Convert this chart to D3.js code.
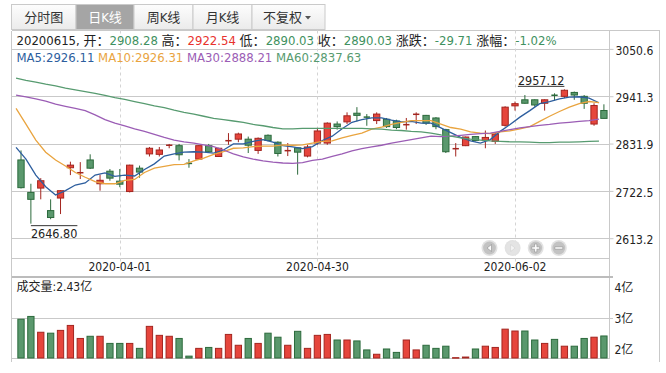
<!DOCTYPE html>
<html>
<head>
<meta charset="utf-8">
<script src="https://cdn.jsdelivr.net/npm/d3@7"></script>
<style>
  body { margin: 0; background: #fff; }
  svg text { font-family: "DejaVu Sans Condensed", "Noto Sans CJK SC", sans-serif; white-space: pre; }
</style>
</head>
<body>
<script>

const dates = [
  "2020-03-18","2020-03-19","2020-03-20","2020-03-23","2020-03-24","2020-03-25","2020-03-26","2020-03-27","2020-03-30","2020-03-31",
  "2020-04-01","2020-04-02","2020-04-03","2020-04-07","2020-04-08","2020-04-09","2020-04-10","2020-04-13","2020-04-14","2020-04-15",
  "2020-04-16","2020-04-17","2020-04-20","2020-04-21","2020-04-22","2020-04-23","2020-04-24","2020-04-27","2020-04-28","2020-04-29",
  "2020-04-30","2020-05-06","2020-05-07","2020-05-08","2020-05-11","2020-05-12","2020-05-13","2020-05-14","2020-05-15","2020-05-18",
  "2020-05-19","2020-05-20","2020-05-21","2020-05-22","2020-05-25","2020-05-26","2020-05-27","2020-05-28","2020-05-29","2020-06-01",
  "2020-06-02","2020-06-03","2020-06-04","2020-06-05","2020-06-08","2020-06-09","2020-06-10","2020-06-11","2020-06-12","2020-06-15"
]

const openP = [
  2794, 2719, 2729, 2677, 2706, 2776, 2763, 2794, 2739, 2768,
  2745, 2721, 2775, 2808, 2807, 2827, 2827, 2787, 2796, 2827,
  2802, 2837, 2842, 2842, 2816, 2851, 2835, 2814, 2822, 2803,
  2833, 2833, 2877, 2882, 2902, 2894, 2885, 2888, 2884, 2874,
  2899, 2897, 2891, 2864, 2819, 2827, 2848, 2839, 2837, 2874,
  2919, 2933, 2933, 2925, 2944, 2941, 2950, 2941, 2877, 2908.28
]
const highP = [
  2816, 2739, 2752, 2703, 2724, 2790, 2789, 2807, 2760, 2773,
  2773, 2783, 2781, 2824, 2824, 2831, 2831, 2796, 2828, 2831,
  2822, 2856, 2857, 2848, 2846, 2853, 2837, 2833, 2824, 2829,
  2868, 2881, 2883, 2904, 2916, 2900, 2904, 2891, 2887, 2891,
  2904, 2898, 2893, 2866, 2833, 2848, 2849, 2862, 2856, 2918,
  2929, 2944, 2934, 2934, 2948, 2957.12, 2952, 2944, 2925, 2922.54
]
const lowP = [
  2728, 2646.80, 2703, 2657, 2669, 2759, 2750, 2773, 2723, 2746,
  2731, 2719, 2753, 2802, 2802, 2821, 2793, 2776, 2795, 2811,
  2801, 2829, 2835, 2810, 2808, 2837, 2802, 2803, 2760, 2800,
  2829, 2829, 2864, 2877, 2883, 2873, 2877, 2868, 2865, 2864,
  2877, 2875, 2865, 2810, 2802, 2826, 2837, 2821, 2831, 2871,
  2908, 2924, 2917, 2908, 2931, 2937, 2933, 2912, 2873, 2890.03
]
const closeP = [
  2730, 2703, 2746, 2661, 2723, 2782, 2766, 2775, 2747, 2752,
  2738, 2782, 2766, 2821, 2817, 2829, 2806, 2785, 2827, 2813,
  2821, 2840, 2854, 2828, 2844, 2839, 2809, 2817, 2812, 2824,
  2861, 2879, 2871, 2896, 2897, 2892, 2900, 2871, 2869, 2877,
  2900, 2879, 2871, 2813, 2821, 2847, 2839, 2846, 2854, 2916,
  2924, 2925, 2921, 2933, 2943, 2955, 2944, 2925, 2919.74, 2890.03
]
// 成交量, 亿
const volume = [
  2.97, 3.06, 2.55, 2.52, 2.61, 2.77, 2.35, 2.42, 2.42, 2.19,
  2.19, 2.19, 2.03, 2.74, 2.45, 2.42, 2.35, 1.78, 2.03, 2.06,
  2.03, 2.48, 2.13, 2.35, 2.19, 2.52, 2.39, 2.13, 2.58, 2.03,
  2.45, 2.48, 2.30, 2.30, 2.27, 1.98, 1.84, 2.01, 1.90, 2.30,
  1.98, 2.13, 2.03, 2.10, 1.73, 1.75, 2.01, 2.10, 2.06, 2.65,
  2.59, 2.59, 2.30, 2.19, 2.32, 2.10, 2.10, 2.35, 2.39, 2.43
]
const ma5 = [
  2823, 2796, 2759, 2732, 2713, 2723, 2736, 2741, 2759, 2764,
  2756, 2759, 2757, 2772, 2785, 2803, 2808, 2812, 2813, 2812,
  2810, 2817, 2831, 2831, 2837, 2841, 2835, 2827, 2824, 2820,
  2825, 2839, 2849, 2866, 2881, 2887, 2891, 2891, 2886, 2882,
  2883, 2879, 2879, 2868, 2857, 2846, 2838, 2833, 2841, 2860,
  2876, 2893, 2908, 2924, 2929, 2935, 2939, 2940, 2937, 2926.11
]
const ma10 = [
  2913, 2877, 2840, 2812, 2794, 2780, 2765, 2754, 2744, 2739,
  2739, 2747, 2749, 2765, 2775, 2779, 2783, 2784, 2792, 2798,
  2807, 2813, 2821, 2822, 2825, 2826, 2826, 2829, 2828, 2829,
  2833, 2837, 2838, 2845, 2851, 2856, 2865, 2870, 2876, 2881,
  2885, 2885, 2885, 2877, 2869, 2865, 2859, 2856, 2855, 2859,
  2861, 2866, 2871, 2883, 2895, 2906, 2916, 2924, 2929, 2926.31
]
const ma30 = [
  2944, 2940, 2935, 2930, 2923, 2918, 2913, 2908, 2898, 2887,
  2879, 2873, 2866, 2860, 2853, 2846, 2840, 2836, 2833, 2829,
  2825, 2817, 2808, 2801, 2796, 2792, 2789, 2787, 2786, 2788,
  2793, 2796, 2802, 2808, 2815, 2820, 2824, 2828, 2833, 2837,
  2841, 2845, 2849, 2848, 2849, 2851, 2853, 2855, 2856, 2860,
  2864, 2868, 2871, 2874, 2876, 2879, 2881, 2883, 2885, 2888.21
]
const ma60 = [
  2983, 2978, 2974, 2969, 2965, 2960, 2956, 2952, 2948, 2943,
  2938, 2934, 2929, 2924, 2919, 2915, 2909, 2904, 2900, 2895,
  2890, 2887, 2884, 2881, 2876, 2873, 2869, 2866, 2866, 2867,
  2867, 2867, 2867, 2867, 2867, 2867, 2866, 2865, 2863, 2862,
  2860, 2859, 2856, 2852, 2849, 2845, 2842, 2840, 2838, 2837,
  2836, 2836, 2835, 2834, 2834, 2835, 2835, 2836, 2837, 2837.63
]

const priceTicks = [3050.6, 2941.3, 2831.9, 2722.5, 2613.2]
const volTicks = [4, 3, 2]
const dateTicks = ["2020-04-01", "2020-04-30", "2020-06-02"]

const tabs = ["分时图", "日K线", "周K线", "月K线", "不复权"]
const dayLabel = "20200615"
const infoLabels = ["开", "高", "低", "收", "涨跌", "涨幅"]
const infoValues = ["2908.28", "2922.54", "2890.03", "2890.03", "-29.71", "-1.02%"]
const maNames = ["MA5", "MA10", "MA30", "MA60"]
const maLast = ["2926.11", "2926.31", "2888.21", "2837.63"]
const volLabel = "2.43亿"


svgWidth = 666
svgHeight = 373

const box = {left: 11.5, right: 659.5, axis: 609.5, top: 30.5, plotBottom: 258.5, volTop: 277, volBottom: 358.5}

const red = "#e6453c", redDark = "#a3251f"
const green = "#5a986d", greenDark = "#2c6a3c"
const gridColor = "#c9c9c9"
const textColor = "#222"
const infoGreen = "#3f9160", infoRed = "#e8312d"
const maColors = ["#2d5e9e", "#e9a43f", "#9b5db5", "#579b70"]

var rows = dates.map(function(d, i) {
  return {date: d, o: openP[i], h: highP[i], l: lowP[i], c: closeP[i], v: volume[i]}
})

var svg = d3.select("body")
  .append("svg")
    .attr("width", svgWidth)
    .attr("height", svgHeight)

// scales
var x = d3.scaleBand().domain(dates).range([16.06, 608.86])
var cx = function(d) { return x(d) + x.bandwidth() / 2 }
var y = d3.scaleLinear().domain([2613.2, 3050.6]).range([238.2, 48.9])
var yv = d3.scaleLinear().domain([2, 4]).range([349.3, 287.3])

// tabs
var grad = svg.append("defs").append("linearGradient")
  .attr("id", "tabGrad").attr("x1", 0).attr("y1", 0).attr("x2", 0).attr("y2", 1)
grad.append("stop").attr("offset", "0%").attr("stop-color", "#fdfdfd")
grad.append("stop").attr("offset", "100%").attr("stop-color", "#ebebeb")

const tabEdges = [11.5, 76, 134, 193, 252, 325]
var tabG = svg.append("g")
tabs.forEach(function(t, i) {
  var x0 = tabEdges[i], x1 = tabEdges[i + 1]
  tabG.append("rect")
    .attr("x", x0).attr("y", 4.5)
    .attr("width", x1 - x0).attr("height", 25)
    .attr("fill", i == 1 ? "#a5a5a5" : "url(#tabGrad)")
    .attr("stroke", "#cacaca")
  tabG.append("text")
    .attr("x", i == 4 ? (x0 + x1) / 2 - 6 : (x0 + x1) / 2)
    .attr("y", 22)
    .attr("text-anchor", "middle")
    .attr("font-size", 13)
    .attr("fill", i == 1 ? "#fff" : "#333")
    .text(t)
})
tabG.append("path").attr("d", "M305,16 L311,16 L308,19.5 Z").attr("fill", "#555")

// frame + grid
var frame = svg.append("g").attr("stroke", gridColor).attr("fill", "none").attr("shape-rendering", "crispEdges")
function hline(y0, x0, x1, w, col) {
  frame.append("line").attr("x1", x0).attr("x2", x1).attr("y1", y0).attr("y2", y0)
    .attr("stroke-width", w || 1).attr("stroke", col || gridColor)
}
function vline(x0, y0, y1) {
  frame.append("line").attr("x1", x0).attr("x2", x0).attr("y1", y0).attr("y2", y1)
}
hline(box.top, box.left, box.right)
vline(box.left, box.top, 362)
vline(box.right, box.top, 362)
vline(box.axis, box.top, box.volBottom)
priceTicks.forEach(function(t) { hline(Math.round(y(t)) + 0.5, box.left, box.axis) })
hline(box.plotBottom, box.left, box.axis)
hline(box.volTop, box.left, box.axis + 3, 2, "#bcbcbc")
hline(Math.round(yv(3)) + 0.5, box.left, box.axis + 3)
hline(box.volBottom, box.left, box.axis)

svg.append("g").selectAll("line")
  .data(dateTicks)
  .enter()
  .append("line")
    .attr("x1", function(d) { return Math.round(cx(d)) + 0.5 })
    .attr("x2", function(d) { return Math.round(cx(d)) + 0.5 })
    .attr("y1", box.top)
    .attr("y2", box.plotBottom + 5)
    .attr("stroke", "#d4d4d4")
    .attr("stroke-dasharray", "3,3")

// price axis
var yAxis = d3.axisRight(y).tickValues(priceTicks).tickFormat(d3.format(".1f")).tickSize(4).tickPadding(2)
svg.append("g")
  .attr("transform", "translate(" + box.axis + ",0)")
  .call(yAxis)
  .attr("font-size", 12)
  .call(function(g) { g.select(".domain").remove() })
  .call(function(g) { g.selectAll("line").attr("stroke", gridColor) })
  .call(function(g) { g.selectAll("text").attr("fill", textColor).attr("dy", "0.45em") })

// date axis
var xAxis = d3.axisBottom(x).tickValues(dateTicks).tickSize(0).tickPadding(4)
svg.append("g")
  .attr("transform", "translate(0," + box.plotBottom + ")")
  .call(xAxis)
  .attr("font-size", 12)
  .call(function(g) { g.select(".domain").remove() })
  .call(function(g) { g.selectAll("text").attr("fill", textColor) })

// volume axis
var vAxis = d3.axisRight(yv).tickValues(volTicks).tickFormat(function(d) { return d + "亿" }).tickSize(0).tickPadding(5)
svg.append("g")
  .attr("transform", "translate(" + box.axis + ",0)")
  .call(vAxis)
  .attr("font-size", 12)
  .call(function(g) { g.select(".domain").remove() })
  .call(function(g) { g.selectAll("text").attr("fill", textColor) })

// header
var head = svg.append("text").attr("x", 16.5).attr("y", 44.5).attr("font-size", 13)
head.append("tspan").attr("fill", textColor).text(dayLabel + ", ")
infoLabels.forEach(function(l, i) {
  head.append("tspan").attr("fill", textColor).text((i ? " " : "") + l + "：")
  head.append("tspan").attr("fill", i == 1 ? infoRed : infoGreen).text(infoValues[i])
})

var maText = svg.append("text").attr("x", 16.5).attr("y", 62).attr("font-size", 13)
maNames.forEach(function(n, i) {
  maText.append("tspan").attr("fill", maColors[i]).text((i ? " " : "") + n + ":" + maLast[i])
})

// candles
var half = 3.15
var candle = svg.append("g").selectAll("g")
  .data(rows)
  .enter()
  .append("g")

candle.append("line")
  .attr("x1", function(d) { return cx(d.date) })
  .attr("x2", function(d) { return cx(d.date) })
  .attr("y1", function(d) { return y(d.h) })
  .attr("y2", function(d) { return y(d.l) })
  .attr("stroke", function(d) { return d.c >= d.o ? redDark : greenDark })
  .attr("stroke-width", 1)

candle.append("rect")
  .attr("x", function(d) { return cx(d.date) - half })
  .attr("width", half * 2)
  .attr("y", function(d) {
    var top = y(Math.max(d.o, d.c)), bot = y(Math.min(d.o, d.c))
    return bot - top < 1.5 ? (top + bot) / 2 - 0.75 : top
  })
  .attr("height", function(d) { return Math.max(y(Math.min(d.o, d.c)) - y(Math.max(d.o, d.c)), 1.5) })
  .attr("fill", function(d) {
    var flat = y(Math.min(d.o, d.c)) - y(Math.max(d.o, d.c)) < 1.5
    if (d.c >= d.o) return flat ? redDark : red
    return flat ? greenDark : green
  })
  .attr("stroke", function(d) {
    var flat = y(Math.min(d.o, d.c)) - y(Math.max(d.o, d.c)) < 1.5
    if (flat) return "none"
    return d.c >= d.o ? redDark : greenDark
  })

// moving averages
var maLine = d3.line()
  .x(function(d, i) { return x(dates[i]) })
  .y(function(d) { return y(d) })

;[ma5, ma10, ma30, ma60].forEach(function(s, i) {
  svg.append("path")
    .datum(s)
    .attr("d", maLine)
    .attr("fill", "none")
    .attr("stroke", maColors[i])
    .attr("stroke-width", 1.3)
})

// high / low marks
var hiIdx = highP.indexOf(d3.max(highP))
var loIdx = lowP.indexOf(d3.min(lowP))
var hiX = cx(dates[hiIdx]), hiY = y(highP[hiIdx])
var hiText = svg.append("text")
  .attr("x", hiX).attr("y", hiY - 4.5)
  .attr("text-anchor", "end")
  .attr("font-size", 12.5)
  .attr("fill", textColor)
  .text(d3.format(".2f")(highP[hiIdx]))
var hiW = hiText.node().getComputedTextLength()
svg.append("line").attr("x1", hiX - hiW).attr("x2", hiX).attr("y1", hiY - 3).attr("y2", hiY - 3)
  .attr("stroke", "#333").attr("stroke-width", 1)

var loX = cx(dates[loIdx]), loY = y(lowP[loIdx])
var loText = svg.append("text")
  .attr("x", loX).attr("y", loY + 14.5)
  .attr("font-size", 12.5)
  .attr("fill", textColor)
  .text(d3.format(".2f")(lowP[loIdx]))
var loW = loText.node().getComputedTextLength()
svg.append("line").attr("x1", loX).attr("x2", loX + loW).attr("y1", loY + 2).attr("y2", loY + 2)
  .attr("stroke", "#333").attr("stroke-width", 1)

// nav buttons
var navG = svg.append("g")
for (var k = 0; k < 4; k++) {
  var bx = 489.5 + k * 23.1, by = 248
  navG.append("circle").attr("cx", bx).attr("cy", by).attr("r", 8).attr("fill", "#e2e2e2")
  navG.append("circle").attr("cx", bx).attr("cy", by).attr("r", 6.4).attr("fill", k == 1 ? "#e4e4e4" : "#c3c3c3")
  var icon
  if (k == 0) icon = "M" + (bx + 2) + "," + (by - 3.5) + " L" + (bx - 2.5) + "," + by + " L" + (bx + 2) + "," + (by + 3.5) + " Z"
  if (k == 1) icon = "M" + (bx - 2) + "," + (by - 3.5) + " L" + (bx + 2.5) + "," + by + " L" + (bx - 2) + "," + (by + 3.5) + " Z"
  if (k == 2) icon = "M" + (bx - 1.2) + "," + (by - 4) + " h2.4 v2.8 h2.8 v2.4 h-2.8 v2.8 h-2.4 v-2.8 h-2.8 v-2.4 h2.8 Z"
  if (k == 3) icon = "M" + (bx - 4) + "," + (by - 1.2) + " h8 v2.4 h-8 Z"
  navG.append("path").attr("d", icon)
    .attr("fill", k == 1 ? "#f4f4f4" : "#fafafa")
    .attr("stroke", k == 1 ? "#d0d0d0" : "#8f8f8f")
    .attr("stroke-width", 0.6)
}

// volume
svg.append("text").attr("x", 16.5).attr("y", 291).attr("font-size", 12).attr("fill", textColor)
  .text("成交量:" + volLabel)

svg.append("g").selectAll("rect")
  .data(rows)
  .enter()
  .append("rect")
    .attr("x", function(d) { return cx(d.date) - half })
    .attr("width", half * 2)
    .attr("y", function(d) { return yv(d.v) })
    .attr("height", function(d) { return Math.max(box.volBottom - 0.5 - yv(d.v), 0.5) })
    .attr("fill", function(d) { return d.c >= d.o ? red : green })
    .attr("stroke", function(d) { return d.c >= d.o ? redDark : greenDark })

</script>
</body>
</html>
